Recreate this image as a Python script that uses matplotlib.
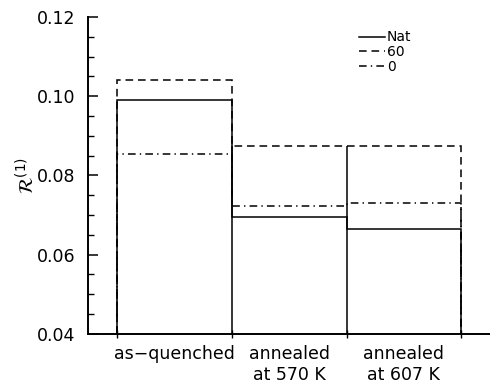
import numpy as np
import matplotlib.pyplot as plt

# ── data ──
states = ["as\u2212quenched", "annealed\nat 570 K", "annealed\nat 607 K"]
edges = [0, 1, 2, 3]
r_nat = [0.0991, 0.0694, 0.0664]
r_60 = [0.1042, 0.0875, 0.0875]
r_0 = [0.0853, 0.0722, 0.0730]

plt.rcParams["font.family"] = "DejaVu Sans"
plt.rcParams["lines.scale_dashes"] = False

fig = plt.figure(figsize=(4.9, 3.86), dpi=100)
ax = fig.add_axes([0.18, 0.135, 0.82, 0.821])

lw = 1.1
base = 0.04
ax.stairs(r_60, edges, baseline=base, color="black", lw=lw,
          linestyle=(0, (5.5, 3.5)), label="60", zorder=2)
ax.stairs(r_0, edges, baseline=base, color="black", lw=lw,
          linestyle=(0, (5.5, 3, 1, 3)), label="0", zorder=3)
ax.stairs(r_nat, edges, baseline=base, color="black", lw=lw,
          linestyle="-", label="Nat", zorder=4)

# solid separators between neighbouring states
tops = np.maximum.reduce([r_nat, r_60, r_0])
for i in range(1, len(edges) - 1):
    ax.vlines(edges[i], base, min(tops[i - 1], tops[i]),
              color="black", lw=lw, zorder=4)

ax.set_xlim(-0.25, 3.25)
ax.set_ylim(0.04, 0.12)

for side in ["top", "right"]:
    ax.spines[side].set_visible(False)
for side in ["left", "bottom"]:
    ax.spines[side].set_linewidth(1.4)

ax.set_yticks([0.04, 0.06, 0.08, 0.10, 0.12])
ax.set_yticklabels(["0.04", "0.06", "0.08", "0.10", "0.12"])
ax.set_yticks(np.arange(0.04, 0.1201, 0.005), minor=True)
ax.tick_params(axis="y", which="major", direction="in", length=7, width=1.1,
               labelsize=12.5, pad=9)
ax.tick_params(axis="y", which="minor", direction="in", length=4, width=1.0)

ax.set_xticks(edges)
ax.set_xticklabels([])
ax.set_xticks([0.5, 1.5, 2.5], minor=True)
ax.set_xticklabels(states, minor=True)
ax.tick_params(axis="x", which="major", direction="inout", length=6, width=1.0)
ax.tick_params(axis="x", which="minor", length=0, labelsize=12.5, pad=8)

ax.set_ylabel(r"$\mathcal{R}^{(1)}$", fontsize=14, labelpad=0)

handles, labels = ax.get_legend_handles_labels()
order = [2, 0, 1]
ax.legend([handles[i] for i in order], [labels[i] for i in order],
          loc="upper left", bbox_to_anchor=(0.66, 0.975), frameon=False,
          fontsize=10, handlelength=1.9, handletextpad=0.1, labelspacing=0.05,
          borderaxespad=0)

fig.savefig("out.png", dpi=100)
